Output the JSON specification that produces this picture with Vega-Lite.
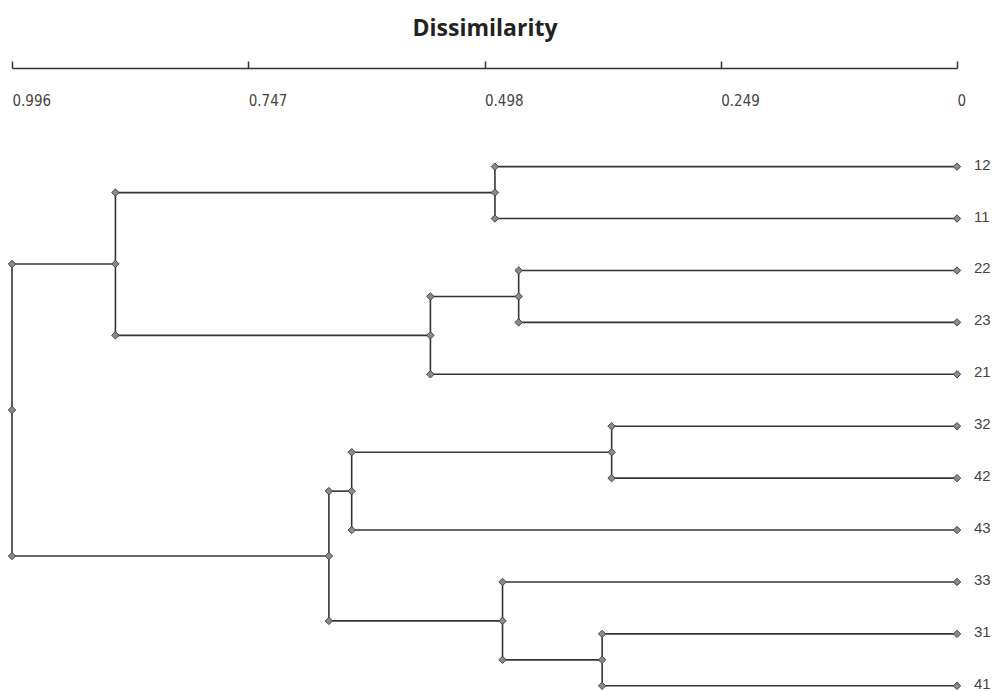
{
  "$schema": "https://vega.github.io/schema/vega-lite/v6.json",
  "width": 945,
  "height": 623,
  "autosize": {"type": "none"},
  "padding": {"left": 12, "top": 68, "right": 42, "bottom": 0},
  "background": "white",
  "config": {"view": {"stroke": null}},
  "datasets": {
    "nodes": [
      {"id": "12", "h": 0, "y": 0, "parent": 0.487, "leaf": true},
      {"id": "11", "h": 0, "y": 1, "parent": 0.487, "leaf": true},
      {"id": "22", "h": 0, "y": 2, "parent": 0.462, "leaf": true},
      {"id": "23", "h": 0, "y": 3, "parent": 0.462, "leaf": true},
      {"id": "21", "h": 0, "y": 4, "parent": 0.555, "leaf": true},
      {"id": "32", "h": 0, "y": 5, "parent": 0.364, "leaf": true},
      {"id": "42", "h": 0, "y": 6, "parent": 0.364, "leaf": true},
      {"id": "43", "h": 0, "y": 7, "parent": 0.638, "leaf": true},
      {"id": "33", "h": 0, "y": 8, "parent": 0.479, "leaf": true},
      {"id": "31", "h": 0, "y": 9, "parent": 0.374, "leaf": true},
      {"id": "41", "h": 0, "y": 10, "parent": 0.374, "leaf": true},
      {"id": "A", "h": 0.487, "y": 0.5, "top": 0, "bot": 1, "parent": 0.887, "leaf": false},
      {"id": "B", "h": 0.462, "y": 2.5, "top": 2, "bot": 3, "parent": 0.555, "leaf": false},
      {"id": "C", "h": 0.555, "y": 3.25, "top": 2.5, "bot": 4, "parent": 0.887, "leaf": false},
      {"id": "D", "h": 0.887, "y": 1.875, "top": 0.5, "bot": 3.25, "parent": 0.996, "leaf": false},
      {"id": "E", "h": 0.364, "y": 5.5, "top": 5, "bot": 6, "parent": 0.638, "leaf": false},
      {"id": "F", "h": 0.638, "y": 6.25, "top": 5.5, "bot": 7, "parent": 0.662, "leaf": false},
      {"id": "G", "h": 0.374, "y": 9.5, "top": 9, "bot": 10, "parent": 0.479, "leaf": false},
      {"id": "H", "h": 0.479, "y": 8.75, "top": 8, "bot": 9.5, "parent": 0.662, "leaf": false},
      {"id": "J", "h": 0.662, "y": 7.5, "top": 6.25, "bot": 8.75, "parent": 0.996, "leaf": false},
      {"id": "R", "h": 0.996, "y": 4.6875, "top": 1.875, "bot": 7.5, "leaf": false}
    ]
  },
  "data": {"name": "nodes"},
  "layer": [
    {
      "transform": [{"filter": "datum.parent != null"}],
      "mark": {"type": "rule", "color": "#333333", "strokeWidth": 1.6},
      "encoding": {
        "x": {
          "field": "h", "type": "quantitative",
          "scale": {"domain": [0, 0.996], "reverse": true, "nice": false, "zero": false},
          "axis": {
            "orient": "top",
            "values": [0.996, 0.747, 0.498, 0.249, 0],
            "labelExpr": "datum.value == 0 ? '0' : format(datum.value, '.3f')",
            "title": "Dissimilarity",
            "titleFont": "Open Sans",
            "titleFontSize": 23,
            "titleFontWeight": "bold",
            "titleColor": "#222222",
            "titleY": -40,
            "titleBaseline": "middle",
            "titleAnchor": "middle",
            "domainColor": "#333333",
            "domainWidth": 1.5,
            "tickColor": "#333333",
            "tickWidth": 1.5,
            "tickSize": 7,
            "labelPadding": -39,
            "labelBaseline": "middle",
            "labelAlign": "left",
            "labelFont": "DejaVu Sans Condensed, Liberation Sans, sans-serif",
            "labelFontSize": 15,
            "labelColor": "#444444",
            "labelFlush": false,
            "labelOverlap": false,
            "grid": false
          }
        },
        "x2": {"field": "parent"},
        "y": {
          "field": "y", "type": "quantitative",
          "scale": {"domain": [-1.9, 10.1], "reverse": true, "nice": false, "zero": false},
          "axis": null
        }
      }
    },
    {
      "transform": [{"filter": "!datum.leaf"}],
      "mark": {"type": "rule", "color": "#333333", "strokeWidth": 1.6},
      "encoding": {
        "x": {"field": "h", "type": "quantitative"},
        "y": {"field": "top", "type": "quantitative"},
        "y2": {"field": "bot"}
      }
    },
    {
      "mark": {"type": "point", "shape": "diamond", "filled": true, "fill": "#8a8a8a", "stroke": "#444444", "strokeWidth": 1, "size": 55, "opacity": 1},
      "encoding": {
        "x": {"field": "h", "type": "quantitative"},
        "y": {"field": "y", "type": "quantitative"}
      }
    },
    {
      "transform": [{"filter": "datum.parent != null"}],
      "mark": {"type": "point", "shape": "diamond", "filled": true, "fill": "#8a8a8a", "stroke": "#444444", "strokeWidth": 1, "size": 55, "opacity": 1},
      "encoding": {
        "x": {"field": "parent", "type": "quantitative"},
        "y": {"field": "y", "type": "quantitative"}
      }
    },
    {
      "transform": [{"filter": "datum.leaf"}],
      "mark": {"type": "text", "align": "left", "baseline": "middle", "dx": 17, "dy": -2, "font": "Liberation Sans", "fontSize": 15, "color": "#444444"},
      "encoding": {
        "x": {"field": "h", "type": "quantitative"},
        "y": {"field": "y", "type": "quantitative"},
        "text": {"field": "id"}
      }
    }
  ]
}
